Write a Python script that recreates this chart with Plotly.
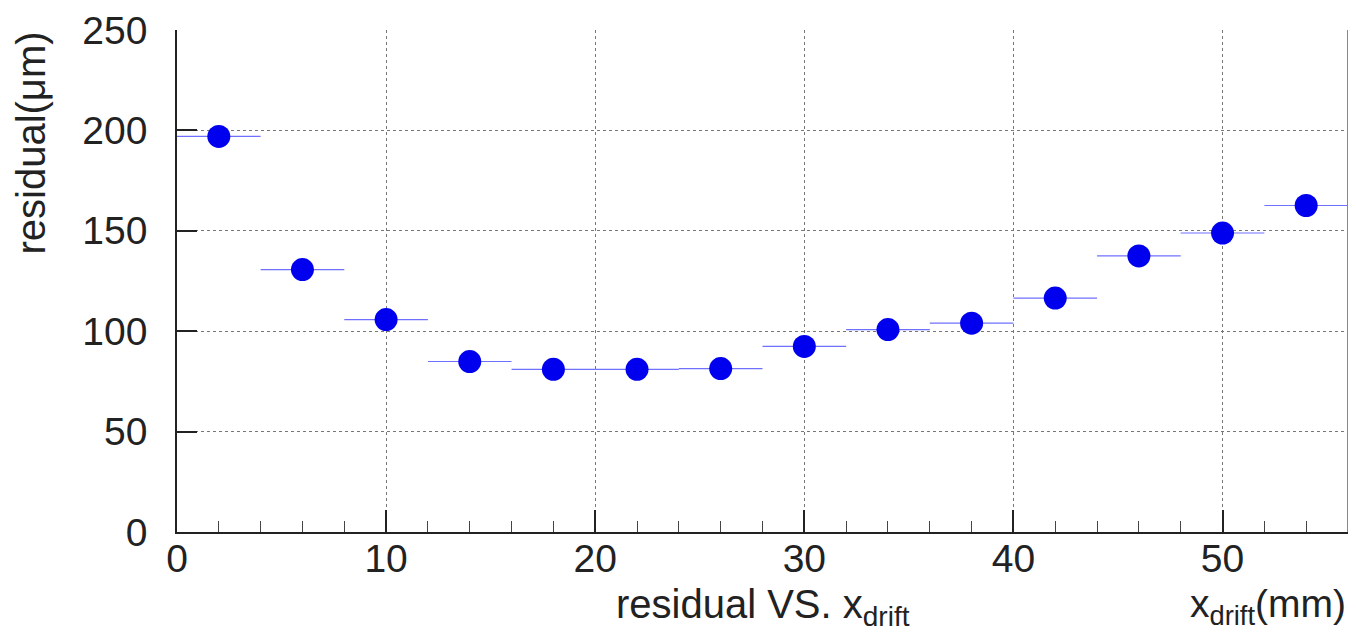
import plotly.graph_objects as go

x_drift = [2, 6, 10, 14, 18, 22, 26, 30, 34, 38, 42, 46, 50, 54]
residual = [197, 130.7, 105.8, 84.9, 81.0, 81.0, 81.4, 92.4, 100.8, 104.0, 116.5, 137.5, 148.9, 162.6]
bin_half_width = [2] * len(x_drift)

x_ticks = [0, 10, 20, 30, 40, 50]
y_ticks = [0, 50, 100, 150, 200, 250]

FONT = "Liberation Sans, Arial, Helvetica, sans-serif"

fig = go.Figure()
fig.add_trace(go.Scatter(
    x=x_drift, y=residual, mode="markers",
    marker=dict(color="#0000ee", size=23, line=dict(width=0)),
    error_x=dict(type="data", array=bin_half_width, width=0, thickness=1.2, color="#7070ff"),
    showlegend=False,
))

# the page body adds an 8 px offset, so the figure is sized/margined to compensate
fig.update_layout(
    width=1340, height=628,
    margin=dict(l=169, r=0, t=22, b=104),
    paper_bgcolor="white", plot_bgcolor="white",
    font=dict(family=FONT, color="#222", size=36),
    xaxis=dict(
        range=[0, 56], tickvals=x_ticks, ticks="inside", ticklen=22, tickwidth=1.5,
        tickcolor="#222", showline=True, linecolor="#222", linewidth=1.5,
        showgrid=True, gridcolor="#777", griddash="dot", gridwidth=1,
        minor=dict(dtick=2, ticks="inside", ticklen=11, tickcolor="#444", tickwidth=1.2, showgrid=False),
        tickfont=dict(size=39), zeroline=False, ticklabelstandoff=-9, automargin=False,
    ),
    yaxis=dict(
        range=[0, 250], tickvals=y_ticks, ticks="inside", ticklen=20, tickwidth=1.5,
        tickcolor="#222", showline=True, linecolor="#222", linewidth=1.5,
        showgrid=True, gridcolor="#777", griddash="dot", gridwidth=1,
        tickfont=dict(size=39), zeroline=False, ticklabelstandoff=20, automargin=False,
    ),
    shapes=[dict(type="line", xref="paper", yref="paper", x0=1, x1=1, y0=0, y1=1,
                 line=dict(color="#888", width=2))],
    annotations=[
        dict(text="residual(μm)", textangle=-90, xref="paper", yref="paper",
             x=-0.1255, y=1.0, xanchor="center", yanchor="top", showarrow=False,
             font=dict(size=40)),
        dict(text="residual VS. x<sub>drift</sub>", xref="paper", yref="paper",
             x=0.5, y=-0.095, xanchor="center", yanchor="top", showarrow=False,
             font=dict(size=40)),
        dict(text="x<sub>drift</sub>(mm)", xref="paper", yref="paper",
             x=1.0, y=-0.095, xanchor="right", yanchor="top", showarrow=False,
             font=dict(size=39)),
    ],
)

fig.write_html("out.html")
